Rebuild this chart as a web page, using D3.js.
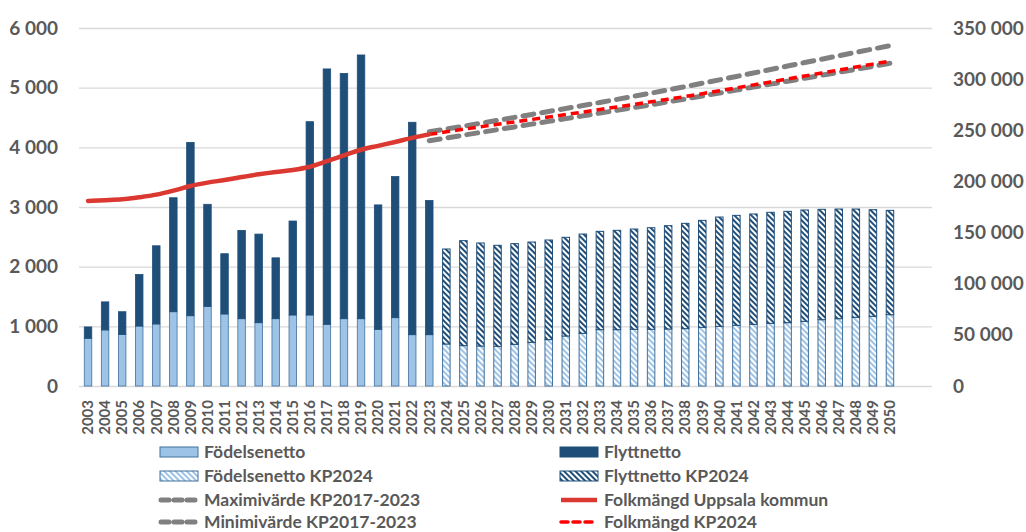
<!DOCTYPE html>
<html>
<head>
<meta charset="utf-8">
<script src="https://cdn.jsdelivr.net/npm/d3@7"></script>
<style>
  body { margin: 0; background: #fff; }
  text { font-family: Lato, "Open Sans", sans-serif; font-weight: bold; fill: #595959; }
</style>
</head>
<body>
<svg width="1026" height="532"></svg>
<script>
const years = [2003, 2004, 2005, 2006, 2007, 2008, 2009, 2010, 2011, 2012, 2013, 2014, 2015, 2016,
  2017, 2018, 2019, 2020, 2021, 2022, 2023, 2024, 2025, 2026, 2027, 2028, 2029, 2030, 2031, 2032,
  2033, 2034, 2035, 2036, 2037, 2038, 2039, 2040, 2041, 2042, 2043, 2044, 2045, 2046, 2047, 2048,
  2049, 2050];

// utfall 2003-2023
const histYears = [2003, 2004, 2005, 2006, 2007, 2008, 2009, 2010, 2011, 2012, 2013, 2014, 2015,
  2016, 2017, 2018, 2019, 2020, 2021, 2022, 2023];
const fodelsenetto = [800, 940, 865, 1005, 1040, 1245, 1178, 1335, 1207, 1128, 1061, 1128, 1190,
  1190, 1034, 1128, 1128, 950, 1145, 860, 860];
const flyttnetto = [190, 470, 380, 865, 1310, 1910, 2905, 1710, 1010, 1480, 1485, 1020, 1575,
  3240, 4280, 4110, 4420, 2085, 2365, 3560, 2250];
const folkmangd = [180900, 181600, 182500, 184500, 187100, 191000, 195500, 198800, 201400, 204300,
  207000, 209300, 211200, 214400, 219800, 225500, 231000, 234800, 238600, 242600, 246000];

// prognos KP2024
const progYears = [2024, 2025, 2026, 2027, 2028, 2029, 2030, 2031, 2032, 2033, 2034, 2035, 2036,
  2037, 2038, 2039, 2040, 2041, 2042, 2043, 2044, 2045, 2046, 2047, 2048, 2049, 2050];
const fodelsenettoKP = [704, 676, 670, 665, 698, 732, 777, 838, 883, 944, 944, 950, 950,
  955, 961, 983, 1000, 1017, 1034, 1050, 1061, 1084, 1111, 1128, 1151, 1168, 1195];
const flyttnettoKP = [1592, 1760, 1727, 1693, 1688, 1681, 1670, 1654, 1664, 1648, 1665, 1681, 1703,
  1732, 1765, 1793, 1832, 1843, 1849, 1861, 1866, 1866, 1850, 1838, 1815, 1787, 1749];

// linjer 2023-2050
const lineYears = [2023, 2024, 2025, 2026, 2027, 2028, 2029, 2030, 2031, 2032, 2033, 2034, 2035,
  2036, 2037, 2038, 2039, 2040, 2041, 2042, 2043, 2044, 2045, 2046, 2047, 2048, 2049, 2050];
const maxKP = [248600, 251200, 254000, 256800, 259700, 262600, 265500, 268400, 271300, 274200,
  277200, 280200, 283300, 286300, 289500, 292700, 296000, 299300, 302600, 306000, 309400,
  312800, 316200, 319500, 322900, 326200, 329500, 332700];
const minKP = [239800, 242500, 245200, 247900, 250600, 253300, 256000, 258700, 261400, 264100,
  266800, 269500, 272200, 275000, 277800, 280600, 283500, 286400, 289300, 292200, 295100,
  298000, 300900, 303800, 306700, 309600, 312500, 315500];
const folkmangdKP = [246000, 248500, 251000, 253400, 255800, 258200, 260600, 263000, 265400,
  267800, 270300, 272800, 275300, 277800, 280400, 283000, 285800, 288600, 291500, 294400,
  297300, 300200, 303100, 306000, 308900, 311800, 314700, 317700];

const leftTicks = [0, 1000, 2000, 3000, 4000, 5000, 6000];
const rightTicks = [0, 50000, 100000, 150000, 200000, 250000, 300000, 350000];

const svg = d3.select('svg');
const plotLeft = 79, plotRight = 932, plotTop = 28, plotBottom = 386;

const locale = d3.formatLocale({ decimal: ',', thousands: ' ', grouping: [3], currency: ['', ' kr'] });
const fmt = locale.format(',');

const x = d3.scaleBand()
  .domain(years)
  .range([79.5, 898.5])
  .paddingInner(0.56)
  .paddingOuter(0.28);

const y = d3.scaleLinear().domain([0, 6000]).range([plotBottom, plotTop]);
const y2 = d3.scaleLinear().domain([0, 350000]).range([plotBottom, plotTop]);

// mönster
const defs = svg.append('defs');
function hatch(id, color) {
  const p = defs.append('pattern')
    .attr('id', id)
    .attr('patternUnits', 'userSpaceOnUse')
    .attr('width', 4).attr('height', 4)
    .attr('patternTransform', 'rotate(45)');
  p.append('rect').attr('width', 4).attr('height', 4).attr('fill', '#fff');
  p.append('rect').attr('width', 4).attr('height', 2).attr('fill', color);
}
hatch('hatchLight', '#9DC3E6');
hatch('hatchDark', '#1F4E79');

// rutnät + vänster axel
const yAxisG = svg.append('g')
  .attr('transform', `translate(${plotLeft},0)`)
  .call(d3.axisLeft(y).tickValues(leftTicks).tickFormat(fmt)
    .tickSize(-(plotRight - plotLeft)).tickPadding(21));
yAxisG.select('.domain').remove();
yAxisG.selectAll('line').attr('stroke', '#d9d9d9').attr('stroke-width', 1.3);
yAxisG.selectAll('text').style('font-size', '19px');

const y2AxisG = svg.append('g')
  .attr('transform', `translate(${plotRight},0)`)
  .call(d3.axisRight(y2).tickValues(rightTicks).tickFormat(fmt).tickSize(0).tickPadding(21));
y2AxisG.select('.domain').remove();
y2AxisG.selectAll('text').style('font-size', '19px');

const xAxisG = svg.append('g')
  .attr('transform', `translate(0,${plotBottom})`)
  .call(d3.axisBottom(x).tickSize(0));
xAxisG.select('.domain').remove();
xAxisG.selectAll('text')
  .attr('transform', 'rotate(-90)')
  .attr('x', -14).attr('y', 0).attr('dy', '0.35em')
  .style('text-anchor', 'end')
  .style('font-size', '15px');

// staplar
const hist = histYears.map((yr, i) => ({ year: yr, fod: fodelsenetto[i], flytt: flyttnetto[i] }));
const prog = progYears.map((yr, i) => ({ year: yr, fod: fodelsenettoKP[i], flytt: flyttnettoKP[i] }));

const bars = svg.append('g');
bars.selectAll('.fod').data(hist).join('rect')
  .attr('x', d => x(d.year)).attr('width', x.bandwidth())
  .attr('y', d => y(d.fod)).attr('height', d => y(0) - y(d.fod))
  .attr('fill', '#9DC3E6').attr('stroke', '#41719C').attr('stroke-width', 0.8);
bars.selectAll('.flytt').data(hist).join('rect')
  .attr('x', d => x(d.year)).attr('width', x.bandwidth())
  .attr('y', d => y(d.fod + d.flytt)).attr('height', d => y(d.fod) - y(d.fod + d.flytt))
  .attr('fill', '#1F4E79').attr('stroke', '#1F4E79').attr('stroke-width', 0.8);

bars.selectAll('.fodKP').data(prog).join('rect')
  .attr('x', d => x(d.year)).attr('width', x.bandwidth())
  .attr('y', d => y(d.fod)).attr('height', d => y(0) - y(d.fod))
  .attr('fill', 'url(#hatchLight)').attr('stroke', '#41719C').attr('stroke-width', 1);
bars.selectAll('.flyttKP').data(prog).join('rect')
  .attr('x', d => x(d.year)).attr('width', x.bandwidth())
  .attr('y', d => y(d.fod + d.flytt)).attr('height', d => y(d.fod) - y(d.fod + d.flytt))
  .attr('fill', 'url(#hatchDark)').attr('stroke', '#1F4E79').attr('stroke-width', 1);

// linjer
const cx = yr => x(yr) + x.bandwidth() / 2;
const line = d3.line().x(d => cx(d[0])).y(d => y2(d[1]));

svg.append('path')
  .attr('d', line(lineYears.map((yr, i) => [yr, maxKP[i]])))
  .attr('fill', 'none').attr('stroke', '#808080').attr('stroke-width', 5)
  .attr('stroke-dasharray', '11,8').attr('stroke-linecap', 'round');
svg.append('path')
  .attr('d', line(lineYears.map((yr, i) => [yr, minKP[i]])))
  .attr('fill', 'none').attr('stroke', '#808080').attr('stroke-width', 5)
  .attr('stroke-dasharray', '11,8').attr('stroke-linecap', 'round');
svg.append('path')
  .attr('d', line(lineYears.map((yr, i) => [yr, folkmangdKP[i]])))
  .attr('fill', 'none').attr('stroke', '#FF0000').attr('stroke-width', 3.5)
  .attr('stroke-dasharray', '8,5');
svg.append('path')
  .attr('d', line.curve(d3.curveMonotoneX)(histYears.map((yr, i) => [yr, folkmangd[i]])))
  .attr('fill', 'none').attr('stroke', '#DA3830').attr('stroke-width', 4.5)
  .attr('stroke-linecap', 'round');

// legend
const legendItems = [
  { label: 'Födelsenetto', type: 'rect', fill: '#9DC3E6', stroke: '#41719C', col: 0, row: 0 },
  { label: 'Flyttnetto', type: 'rect', fill: '#1F4E79', stroke: '#1F4E79', col: 1, row: 0 },
  { label: 'Födelsenetto KP2024', type: 'rect', fill: 'url(#hatchLight)', stroke: '#41719C', col: 0, row: 1 },
  { label: 'Flyttnetto KP2024', type: 'rect', fill: 'url(#hatchDark)', stroke: '#1F4E79', col: 1, row: 1 },
  { label: 'Maximivärde KP2017-2023', type: 'line', stroke: '#808080', width: 5, dash: '8,5', col: 0, row: 2 },
  { label: 'Folkmängd Uppsala kommun', type: 'line', stroke: '#DA3830', width: 4.5, dash: null, col: 1, row: 2 },
  { label: 'Minimivärde KP2017-2023', type: 'line', stroke: '#808080', width: 5, dash: '8,5', col: 0, row: 3 },
  { label: 'Folkmängd KP2024', type: 'line', stroke: '#FF0000', width: 3.5, dash: '7,5', col: 1, row: 3 }
];
const colX = [159, 559];
const rowY = [452, 476, 500, 522];

const legend = svg.append('g');
legendItems.forEach(item => {
  const gx = colX[item.col], gy = rowY[item.row];
  const g = legend.append('g').attr('transform', `translate(${gx},${gy})`);
  if (item.type === 'rect') {
    g.append('rect').attr('x', 1).attr('y', -5).attr('width', 38).attr('height', 10)
      .attr('fill', item.fill).attr('stroke', item.stroke).attr('stroke-width', 1);
  } else {
    g.append('line').attr('x1', 2).attr('x2', 38).attr('y1', 0).attr('y2', 0)
      .attr('stroke', item.stroke).attr('stroke-width', item.width)
      .attr('stroke-dasharray', item.dash).attr('stroke-linecap', item.dash ? 'round' : 'butt');
  }
  g.append('text').attr('x', 45).attr('y', 0).attr('dy', '0.35em')
    .style('font-size', '17.5px').text(item.label);
});
</script>
</body>
</html>
